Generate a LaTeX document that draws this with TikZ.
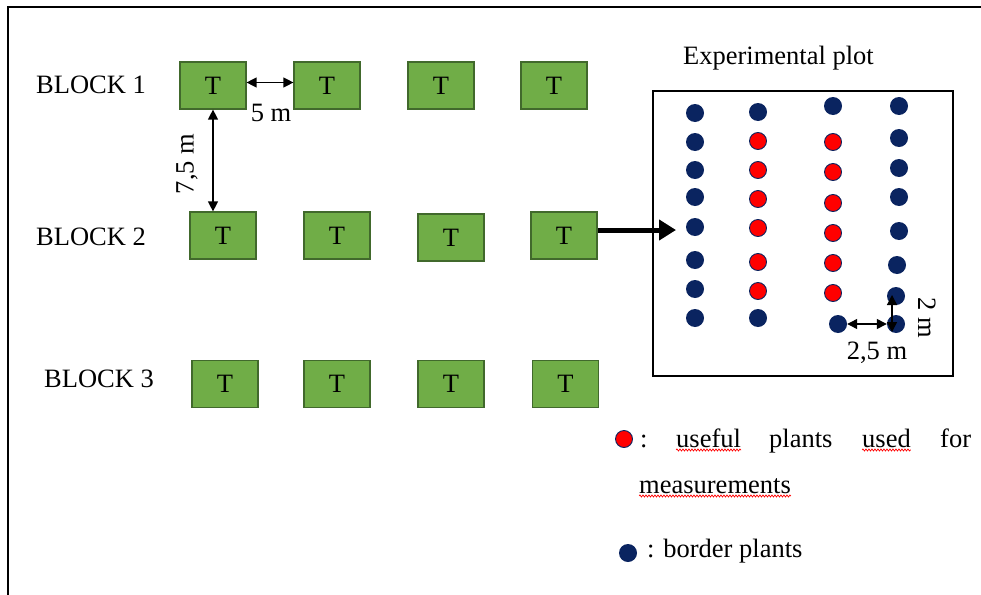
\documentclass[tikz,border=0pt]{standalone}
\usepackage{fontspec}
\setmainfont{Liberation Serif}
\usetikzlibrary{arrows.meta,decorations.pathmorphing}
\definecolor{tgreen}{HTML}{70AD47}
\definecolor{tgreenb}{HTML}{41692C}
\definecolor{navy}{HTML}{0A2460}
\definecolor{dred}{HTML}{FF0000}
\begin{document}
\begin{tikzpicture}[x=1pt,y=-1pt,
  every node/.style={font=\fontsize{26.5}{30}\selectfont, inner sep=0pt},
  tbox/.style={draw=tgreenb, fill=tgreen, line width=1.2pt, minimum width=66pt, minimum height=47pt},
  bdot/.style={circle, fill=navy, minimum size=18pt},
  rdot/.style={circle, fill=dred, draw=navy, line width=0.9pt, minimum size=17pt},
  dimarrow/.style={{Triangle[length=10pt,width=10pt]}-{Triangle[length=10pt,width=10pt]}, line width=1.3pt},
  wavy/.style={draw=red, line width=0.7pt, decorate, decoration={snake, amplitude=1pt, segment length=3pt}},
  lbl/.style={anchor=base west},
  frameline/.style={line width=2pt}
]
\useasboundingbox (0,0) rectangle (981,594);
\draw[frameline] (8,600) -- (8,7) -- (990,7);

% block labels
\node[lbl] (blk1) at (36,93) {BLOCK 1};
\node[lbl] (blk2) at (36,245) {BLOCK 2};
\node[lbl] (blk3) at (44,387) {BLOCK 3};

% boxes
\node[tbox] (b11) at (213,85.5) {T};
\node[tbox] (b12) at (327,85.5) {T};
\node[tbox] (b13) at (441,85.5) {T};
\node[tbox] (b14) at (554,85.5) {T};
\node[tbox] (b21) at (223,235.5) {T};
\node[tbox] (b22) at (337,235.5) {T};
\node[tbox] (b23) at (451,237.5) {T};
\node[tbox] (b24) at (564,235.5) {T};
\node[tbox] (b31) at (225,384) {T};
\node[tbox] (b32) at (337,384) {T};
\node[tbox] (b33) at (451,384) {T};
\node[tbox] (b34) at (565.5,384) {T};

% dimensions between boxes
\draw[dimarrow] ([yshift=3pt]b11.east) -- ([yshift=3pt]b12.west);
\node[anchor=base] (d5) at (271,121) {5 m};
\draw[dimarrow] (b11.south) -- (b11.south |- b21.north);
\node[rotate=90] (d75) at (187,164) {7,5 m};

% experimental plot
\node[lbl] (exp) at (683,64) {Experimental plot};
\draw[line width=1.3pt] (653,91) rectangle (953,376);
\coordinate (arrend) at (676,230);
\draw[line width=5pt, -{Triangle[length=17pt,width=20pt]}] ([yshift=5.5pt]b24.east) -- (arrend);

% plants
\foreach \y [count=\i] in {113,142,170,197,227,260,289,318}
  \node[bdot] (c1r\i) at (695,\y) {};
\foreach \y [count=\i] in {112,141,170,199,228,262,291,318} {
  \ifnum\i=1 \node[bdot] (c2r\i) at (758,\y) {};
  \else\ifnum\i=8 \node[bdot] (c2r\i) at (758,\y) {};
  \else \node[rdot] (c2r\i) at (758,\y) {};
  \fi\fi
}
\foreach \y [count=\i] in {142,172,203,233,263,293}
  \node[rdot] (c3r\i) at (833,\y) {};
\node[bdot] (c3top) at (833,106) {};
\node[bdot] (c3bot) at (838,324) {};
\foreach \x/\y [count=\i] in {899/106,899/138,899/168,899/197,899/231,897/265,896/296,896/324}
  \node[bdot] (c4r\i) at (\x,\y) {};

\draw[dimarrow] (c3bot.east) -- (c4r8.west);
\coordinate (vtop) at (892,295);
\coordinate (vbot) at (892,332);
\draw[dimarrow] (vtop) -- (vbot);
\node[anchor=base] (d25) at (877,359) {2,5 m};
\node[rotate=-90] (d2) at (927,318) {2 m};

% legend
\node[rdot] (lr) at (624,439) {};
\node[lbl] (lc1) at (640,447) {:};
\node[lbl] (w1) at (676,447) {useful};
\node[lbl] (w2) at (769,447) {plants};
\node[lbl] (w3) at (862,447) {used};
\node[lbl] (w4) at (940,447) {for};
\node[lbl] (w5) at (639,493) {measurements};
\draw[wavy] ([yshift=-3pt]w1.base west) -- ([yshift=-3pt]w1.base east);
\draw[wavy] ([yshift=-3pt]w3.base west) -- ([yshift=-3pt]w3.base east);
\draw[wavy] ([yshift=-3pt]w5.base west) -- ([yshift=-3pt]w5.base east);
\node[bdot] (lb) at (628,553) {};
\node[lbl] (lbt) at (647,557) {: border plants};
\end{tikzpicture}
\end{document}
